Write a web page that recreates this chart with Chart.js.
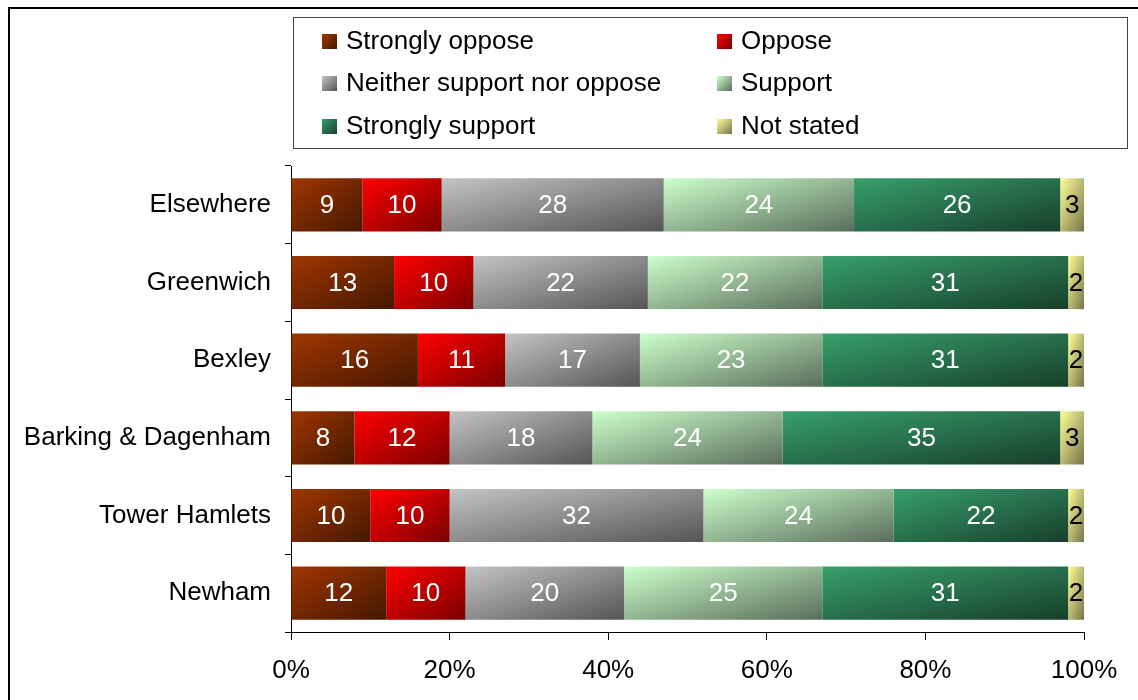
<!DOCTYPE html>
<html>
<head>
<meta charset="utf-8">
<script src="https://cdn.jsdelivr.net/npm/chart.js@4.4.1/dist/chart.umd.min.js"></script>
<style>
  html, body { margin: 0; padding: 0; background: #fff; }
  #wrap { width: 1138px; height: 700px; position: relative; }
</style>
</head>
<body>
<div id="wrap"><canvas id="chart" width="1138" height="700"></canvas></div>
<script>
// boroughs, top to bottom
const categories = ["Elsewhere", "Greenwich", "Bexley", "Barking & Dagenham", "Tower Hamlets", "Newham"];

// percentages per response
const stronglyOppose = [9, 13, 16, 8, 10, 12];
const oppose = [10, 10, 11, 12, 10, 10];
const neither = [28, 22, 17, 18, 32, 20];
const support = [24, 22, 23, 24, 24, 25];
const stronglySupport = [26, 31, 31, 35, 22, 31];
const notStated = [3, 2, 2, 3, 2, 2];

const seriesNames = ["Strongly oppose", "Oppose", "Neither support nor oppose", "Support", "Strongly support", "Not stated"];
const seriesValues = [stronglyOppose, oppose, neither, support, stronglySupport, notStated];

const xTickValues = [0, 20, 40, 60, 80, 100];

// light -> dark pairs for the diagonal fills
const fills = [
  ["#a03600", "#451800"],
  ["#ff0000", "#7a0000"],
  ["#c4c4c4", "#555555"],
  ["#ccffcc", "#5a6e5a"],
  ["#37a06b", "#173f2b"],
  ["#ffff99", "#77744a"],
];
const labelColors = ["#fff", "#fff", "#fff", "#fff", "#fff", "#000"];

const BAR_PCT = 0.685;
const FONT = "Liberation Sans, Arial, sans-serif";
const FONT_SIZE = 26;

// diagonal gradient across a box, isoline running corner to corner like Excel's "diagonal down"
function diagGradient(ctx, x0, top, w, h, pair) {
  const k = (2 * w * h) / (w * w + h * h);
  const g = ctx.createLinearGradient(x0, top, x0 + h * k, top + w * k);
  g.addColorStop(0, pair[0]);
  g.addColorStop(1, pair[1]);
  return g;
}

function barFill(context) {
  const di = context.datasetIndex;
  const pair = fills[di];
  if (context.type !== "data") return pair[0];
  const chart = context.chart;
  const xs = chart.scales.x, ys = chart.scales.y;
  if (!xs || !ys || !chart.chartArea) return pair[0];
  const i = context.dataIndex;
  let start = 0;
  for (let d = 0; d < di; d++) start += seriesValues[d][i];
  const v = seriesValues[di][i];
  const x0 = xs.getPixelForValue(start);
  const x1 = xs.getPixelForValue(start + v);
  const thick = (ys.height / categories.length) * BAR_PCT;
  const top = ys.getPixelForValue(i) - thick / 2;
  return diagGradient(chart.ctx, x0, top, Math.max(1, x1 - x0), thick, pair);
}

// outer frame + legend box
const framePlugin = {
  id: "frame",
  afterDraw(chart) {
    const ctx = chart.ctx;
    ctx.save();
    ctx.strokeStyle = "#000";
    ctx.lineWidth = 2;
    ctx.beginPath();
    ctx.moveTo(1140, 8);
    ctx.lineTo(9, 8);
    ctx.lineTo(9, 702);
    ctx.stroke();

    // legend
    ctx.lineWidth = 1;
    ctx.strokeStyle = "#444";
    ctx.strokeRect(293.5, 17.5, 834, 131);
    ctx.font = FONT_SIZE + "px " + FONT;
    ctx.textBaseline = "middle";
    ctx.textAlign = "left";
    const colX = [322, 717];
    const rowY = [41, 83, 126];
    seriesNames.forEach((name, n) => {
      const sx = colX[n % 2];
      const sy = rowY[Math.floor(n / 2)];
      ctx.fillStyle = diagGradient(ctx, sx, sy - 7, 15, 15, fills[n]);
      ctx.fillRect(sx, sy - 7, 15, 15);
      ctx.fillStyle = "#000";
      ctx.fillText(name, sx + 24, sy + 1);
    });
    ctx.restore();
  },
};

// value labels in the middle of each segment
const valueLabels = {
  id: "valueLabels",
  afterDatasetsDraw(chart) {
    const ctx = chart.ctx;
    ctx.save();
    ctx.font = FONT_SIZE + "px " + FONT;
    ctx.textAlign = "center";
    ctx.textBaseline = "middle";
    chart.data.datasets.forEach((ds, di) => {
      const meta = chart.getDatasetMeta(di);
      meta.data.forEach((bar, i) => {
        const p = bar.getCenterPoint();
        ctx.fillStyle = labelColors[di];
        ctx.fillText(String(ds.data[i]), p.x, p.y + 1);
      });
    });
    ctx.restore();
  },
};

new Chart(document.getElementById("chart"), {
  type: "bar",
  data: {
    labels: categories,
    datasets: seriesNames.map((name, n) => ({
      label: name,
      data: seriesValues[n],
      backgroundColor: barFill,
      borderWidth: 0,
      categoryPercentage: 1,
      barPercentage: BAR_PCT,
    })),
  },
  options: {
    indexAxis: "y",
    responsive: false,
    animation: false,
    events: [],
    layout: { padding: { left: 0, right: 54, top: 166, bottom: 0 } },
    scales: {
      x: {
        stacked: true,
        min: 0,
        max: 100,
        afterFit: (axis) => { axis.height = 68; },
        afterBuildTicks: (axis) => { axis.ticks = xTickValues.map((v) => ({ value: v })); },
        ticks: {
          callback: (v) => v + "%",
          color: "#000",
          font: { family: FONT, size: FONT_SIZE },
          padding: 15,
          maxRotation: 0,
        },
        grid: { drawOnChartArea: false, drawTicks: true, tickLength: 8, color: "#000" },
        border: { display: true, color: "#000", width: 1 },
      },
      y: {
        stacked: true,
        afterFit: (axis) => { axis.width = 291; },
        ticks: {
          color: "#000",
          font: { family: FONT, size: FONT_SIZE },
          padding: 14,
        },
        grid: { drawOnChartArea: false, drawTicks: true, tickLength: 6, color: "#000", offset: true },
        border: { display: true, color: "#000", width: 1 },
      },
    },
    plugins: {
      legend: { display: false },
      tooltip: { enabled: false },
      title: { display: false },
    },
  },
  plugins: [framePlugin, valueLabels],
});
</script>
</body>
</html>
